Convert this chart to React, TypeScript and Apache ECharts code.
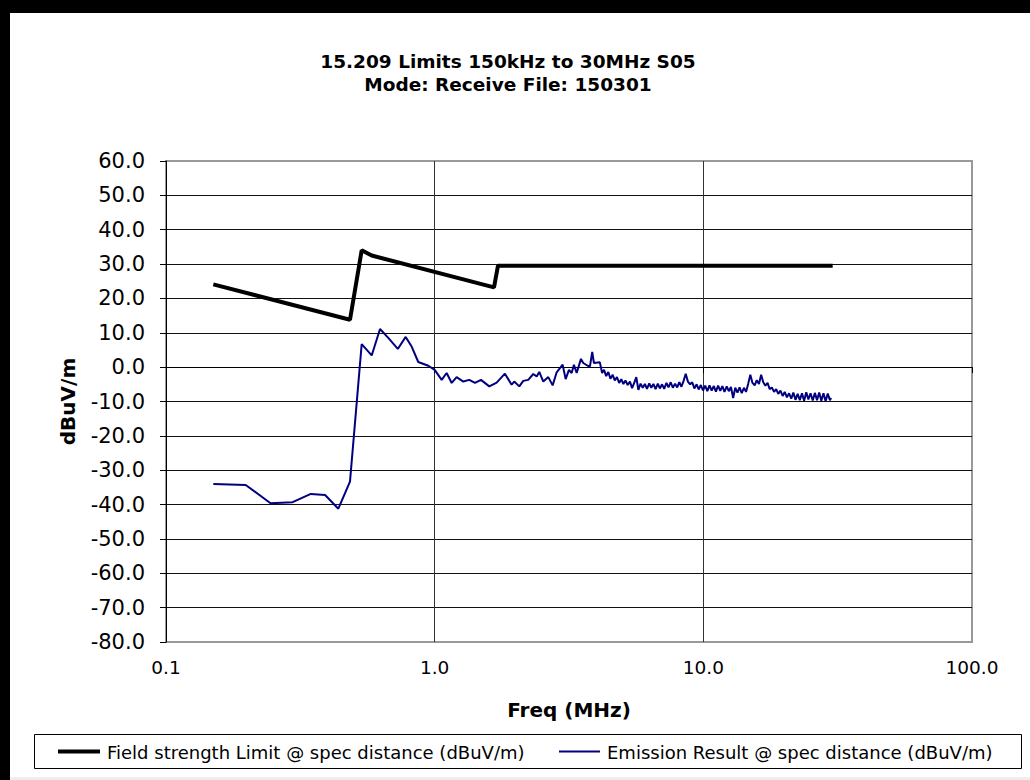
import React, { useEffect, useRef } from "react";
import * as echarts from "echarts";

const titleLines = ["15.209 Limits 150kHz to 30MHz S05", "Mode: Receive File: 150301"];
const xAxisName = "Freq (MHz)";
const yAxisName = "dBuV/m";
const limitName = "Field strength Limit @ spec distance (dBuV/m)";
const emissionName = "Emission Result @ spec distance (dBuV/m)";

// Field strength limit (MHz, dBuV/m)
const limitFreq = [0.15, 0.484, 0.535, 0.583, 1.663, 1.72, 30.3];
const limitLevel = [24.1, 13.8, 34.0, 32.5, 23.2, 29.5, 29.5];

// Emission result (MHz, dBuV/m)
const emissionFreq = [
  0.150, 0.198, 0.245, 0.296, 0.346, 0.391, 0.438, 0.484, 0.535, 0.583,
  0.626, 0.672, 0.729, 0.780, 0.821, 0.869, 0.947, 1.0, 1.062, 1.108,
  1.157, 1.207, 1.278, 1.345, 1.413, 1.487, 1.597, 1.701, 1.826, 1.934,
  1.978, 2.065, 2.137, 2.230, 2.328, 2.397, 2.451, 2.537, 2.648, 2.749,
  2.845, 2.995, 3.073, 3.161, 3.235, 3.299, 3.377, 3.504, 3.573, 3.710,
  3.784, 3.859, 3.916, 4.12, 4.20, 4.27, 4.35, 4.43, 4.51, 4.60,
  4.68, 4.77, 4.86, 4.95, 5.04, 5.13, 5.23, 5.33, 5.43, 5.53,
  5.63, 5.73, 5.84, 5.95, 6.06, 6.17, 6.29, 6.40, 6.52, 6.64,
  6.77, 6.89, 7.02, 7.15, 7.29, 7.42, 7.56, 7.70, 7.85, 7.99,
  8.14, 8.29, 8.45, 8.60, 8.76, 8.93, 9.09, 9.26, 9.44, 9.61,
  9.79, 9.97, 10.16, 10.35, 10.54, 10.74, 10.94, 11.14, 11.35, 11.56,
  11.77, 11.99, 12.22, 12.44, 12.67, 12.91, 13.15, 13.40, 13.64, 13.90,
  14.16, 14.42, 14.69, 14.96, 15.24, 15.53, 15.81, 16.11, 16.41, 16.71,
  17.02, 17.34, 17.66, 17.99, 18.33, 18.67, 19.01, 19.37, 19.73, 20.09,
  20.47, 20.85, 21.24, 21.63, 22.03, 22.44, 22.86, 23.29, 23.72, 24.16,
  24.61, 25.07, 25.54, 26.01, 26.50, 26.99, 27.49, 28.00, 28.52, 29.05,
  29.59, 29.9,
];
const emissionLevel = [
  -34.0, -34.3, -39.6, -39.3, -36.9, -37.2, -41.2, -33.3, 6.7, 3.4,
  11.1, 8.5, 5.3, 8.8, 6.0, 1.5, 0.4, -0.8, -3.7, -1.7,
  -4.6, -2.9, -4.2, -3.7, -4.6, -3.7, -5.6, -4.5, -1.9, -5.1,
  -4.2, -5.6, -4.0, -3.7, -2.0, -2.7, -1.4, -4.2, -2.9, -5.3,
  -1.5, 0.7, -3.5, -0.8, -1.7, 0.7, -1.7, 2.4, 1.2, 0.4,
  0.2, 4.4, 1.2, 1.4, -1.7, -0.8, -2.6, -1.4, -3.4, -2.2,
  -3.9, -2.9, -4.6, -3.5, -4.9, -3.9, -5.2, -4.2, -6.1, -4.6,
  -2.9, -6.6, -4.8, -6.0, -4.9, -6.3, -4.7, -6.0, -4.9, -6.4,
  -4.8, -6.2, -5.0, -6.3, -4.6, -5.9, -4.4, -6.0, -4.8, -5.9,
  -4.4, -5.7, -3.9, -1.9, -4.2, -5.0, -4.4, -6.2, -5.0, -6.5,
  -5.2, -6.8, -5.4, -7.0, -5.3, -6.8, -5.5, -7.1, -5.4, -6.9,
  -5.5, -7.2, -5.6, -7.0, -5.8, -9.0, -6.0, -7.4, -5.9, -7.6,
  -6.0, -7.2, -4.8, -2.2, -4.6, -5.3, -3.8, -4.9, -2.2, -4.4,
  -5.4, -4.6, -6.4, -5.9, -7.2, -6.4, -7.8, -6.8, -8.4, -7.2,
  -8.8, -7.6, -9.2, -7.4, -9.5, -7.8, -9.6, -7.6, -9.8, -7.3,
  -9.4, -7.6, -9.7, -7.5, -9.6, -7.4, -9.8, -7.6, -9.9, -7.7,
  -9.6, -9.0,
];

const FONT = "DejaVu Sans";

export default function App() {
  const ref = useRef<HTMLDivElement>(null);
  useEffect(() => {
    if (!ref.current) return;
    const chart = echarts.init(ref.current, null, { renderer: "svg" });
    const limitData = limitFreq.map((f, i) => [f, limitLevel[i]]);
    const emissionData = emissionFreq.map((f, i) => [f, emissionLevel[i]]);
    chart.setOption({
      animation: false,
      backgroundColor: "#ffffff",
      title: {
        text: titleLines.join("\n"),
        left: 508,
        top: 50,
        padding: 0,
        textAlign: "center",
        textStyle: {
          fontFamily: FONT,
          fontWeight: "bold",
          fontSize: 18.5,
          lineHeight: 23,
          color: "#000",
        },
      },
      grid: {
        left: 166,
        right: 58,
        top: 161,
        bottom: 138,
        show: true,
        borderColor: "#999",
        borderWidth: 2,
        backgroundColor: "#fff",
      },
      xAxis: {
        type: "log",
        logBase: 10,
        min: 0.1,
        max: 100,
        name: xAxisName,
        nameLocation: "middle",
        nameGap: 58,
        nameTextStyle: { fontFamily: FONT, fontWeight: "bold", fontSize: 20, color: "#000" },
        axisLine: { show: true, lineStyle: { color: "#000", width: 1 } },
        axisTick: { show: true, length: 6, lineStyle: { color: "#000" } },
        minorTick: { show: false },
        axisLabel: {
          fontFamily: FONT,
          fontSize: 18.5,
          color: "#000",
          margin: 16,
          formatter: (v: number) => v.toFixed(1),
        },
        splitLine: { show: true, showMinLine: false, showMaxLine: false, lineStyle: { color: "#333", width: 1 } },
      },
      yAxis: {
        type: "value",
        min: -80,
        max: 60,
        interval: 10,
        name: yAxisName,
        nameLocation: "middle",
        nameGap: 88,
        nameTextStyle: { fontFamily: FONT, fontWeight: "bold", fontSize: 20, color: "#000" },
        axisLine: { show: true, lineStyle: { color: "#000", width: 1 } },
        axisTick: { show: true, length: 6, lineStyle: { color: "#000" } },
        axisLabel: {
          fontFamily: FONT,
          fontSize: 21,
          color: "#000",
          margin: 21,
          formatter: (v: number) => v.toFixed(1),
        },
        splitLine: { show: true, showMinLine: false, showMaxLine: false, lineStyle: { color: "#111", width: 1 } },
      },
      series: [
        {
          name: limitName,
          type: "line",
          data: limitData,
          symbol: "none",
          showSymbol: false,
          lineStyle: { color: "#000", width: 4 },
          itemStyle: { color: "#000" },
          z: 3,
        },
        {
          name: emissionName,
          type: "line",
          data: emissionData,
          symbol: "none",
          showSymbol: false,
          lineStyle: { color: "#000080", width: 2 },
          itemStyle: { color: "#000080" },
          z: 4,
        },
      ],
      graphic: [
        { type: "rect", shape: { x: 0, y: 0, width: 1030, height: 13 }, style: { fill: "#000" }, z: 100 },
        { type: "rect", shape: { x: 0, y: 0, width: 10, height: 780 }, style: { fill: "#000" }, z: 100 },
        { type: "rect", shape: { x: 10, y: 777, width: 1020, height: 3 }, style: { fill: "#eeeeee" }, z: 100 },
        {
          type: "rect",
          shape: { x: 34.5, y: 734.5, width: 987, height: 34 },
          style: { fill: "#fff", stroke: "#000", lineWidth: 1 },
          z: 100,
        },
        {
          type: "line",
          shape: { x1: 58, y1: 751.5, x2: 100, y2: 751.5 },
          style: { stroke: "#000", lineWidth: 4 },
          z: 101,
        },
        {
          type: "text",
          x: 107,
          y: 752,
          style: {
            text: limitName,
            fontFamily: FONT,
            fontSize: 18,
            fill: "#000",
            verticalAlign: "middle",
            align: "left",
          },
          z: 101,
        },
        {
          type: "line",
          shape: { x1: 559, y1: 751.5, x2: 600, y2: 751.5 },
          style: { stroke: "#000080", lineWidth: 2 },
          z: 101,
        },
        {
          type: "text",
          x: 607,
          y: 752,
          style: {
            text: emissionName,
            fontFamily: FONT,
            fontSize: 18,
            fill: "#000",
            verticalAlign: "middle",
            align: "left",
          },
          z: 101,
        },
      ],
    });
    return () => chart.dispose();
  }, []);
  return (
    <div
      ref={ref}
      style={{ position: "fixed", left: 0, top: 0, width: 1030, height: 780, background: "#fff" }}
    />
  );
}
